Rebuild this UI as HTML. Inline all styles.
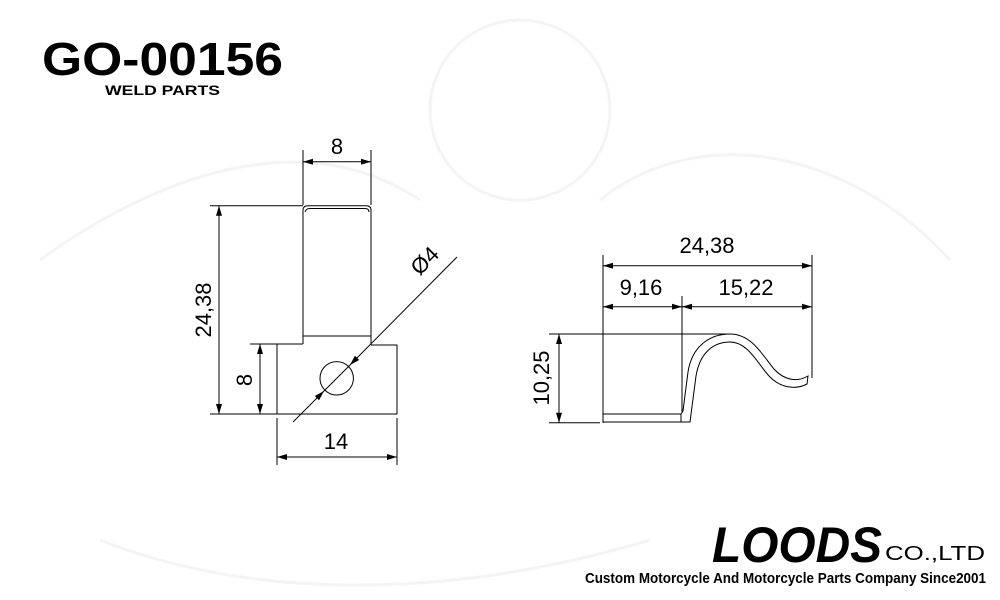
<!DOCTYPE html>
<html><head><meta charset="utf-8"><style>
html,body{margin:0;padding:0;background:#fff;}
svg{display:block;}
text{font-family:"Liberation Sans",sans-serif;}
</style></head><body>
<svg width="1000" height="600" viewBox="0 0 1000 600" xmlns="http://www.w3.org/2000/svg">
<defs>
<marker id="a" viewBox="0 0 10 6" refX="10" refY="3" markerWidth="15" markerHeight="6" markerUnits="userSpaceOnUse" orient="auto-start-reverse"><path d="M0,0 L10,3 L0,6 Z" fill="#000"/></marker>
</defs>
<!-- faint watermark -->
<g fill="none" stroke="#f4f4f4" stroke-width="3">
<circle cx="520" cy="110" r="90"/><path d="M40,260 C150,180 300,120 420,200"/><path d="M600,200 C700,120 850,150 950,260"/>
<path d="M100,540 C250,600 450,600 650,540"/>
</g>
<!-- title -->
<text x="42" y="75" font-size="46" font-weight="bold" textLength="241" lengthAdjust="spacingAndGlyphs">GO-00156</text>
<text x="105" y="95" font-size="14" font-weight="bold" textLength="115" lengthAdjust="spacingAndGlyphs">WELD PARTS</text>

<g stroke="#000" stroke-width="1" fill="none">
<!-- front view -->
<path d="M303,344 L303,210 Q303,205.7 308,205.7 L366,205.7 Q371,205.7 371,210 L371,345"/>
<path d="M305,212 Q306,208.5 310,208.5 L365,208.5 Q369,208.5 369,212"/>
<line x1="303" y1="336" x2="371" y2="336"/>
<path d="M303,344 L277,344 L277,414 L397,414 L397,345 L371,345"/>
<circle cx="336.7" cy="378.3" r="16.7"/>
<!-- ext lines -->
<line x1="303" y1="150" x2="303" y2="205"/>
<line x1="371" y1="150" x2="371" y2="205"/>
<line x1="210" y1="205.7" x2="303" y2="205.7"/>
<line x1="210" y1="414" x2="277" y2="414"/>
<line x1="250" y1="344" x2="277" y2="344"/>
<line x1="277" y1="418" x2="277" y2="465"/>
<line x1="397" y1="418" x2="397" y2="465"/>
<!-- dims -->
<line x1="303" y1="161.7" x2="371" y2="161.7" marker-start="url(#a)" marker-end="url(#a)"/>
<line x1="219" y1="205.7" x2="219" y2="414" marker-start="url(#a)" marker-end="url(#a)"/>
<line x1="260" y1="344" x2="260" y2="414" marker-start="url(#a)" marker-end="url(#a)"/>
<line x1="277" y1="457" x2="397" y2="457" marker-start="url(#a)" marker-end="url(#a)"/>
<line x1="457" y1="257" x2="350" y2="365" marker-end="url(#a)"/>
<line x1="293" y1="422" x2="324" y2="391" marker-end="url(#a)"/>
<line x1="324" y1="391" x2="350" y2="365"/>

<!-- side view -->
<path d="M603,414 L681,414 L683,411 L688,372 C692,346 710,334 730,334 C752,334 763,356 774,369 C785,381 798,382 808,376 L807,384 C796,390 780,388 769,376 C758,364 748,342 730,342 C714,342 700,352 696,376 L690,422 L603,422 Z"/>
<line x1="681" y1="414" x2="681" y2="422"/>
<line x1="603" y1="255" x2="603" y2="423"/>
<line x1="812" y1="255" x2="812" y2="378"/>
<line x1="682" y1="296" x2="682" y2="412"/>
<line x1="549" y1="334" x2="730" y2="334"/>
<line x1="549" y1="422.7" x2="600" y2="422.7"/>
<line x1="603" y1="265.7" x2="812" y2="265.7" marker-start="url(#a)" marker-end="url(#a)"/>
<line x1="603" y1="306.7" x2="682" y2="306.7" marker-start="url(#a)" marker-end="url(#a)"/>
<line x1="682" y1="306.7" x2="812" y2="306.7" marker-start="url(#a)" marker-end="url(#a)"/>
<line x1="559" y1="334" x2="559" y2="422.7" marker-start="url(#a)" marker-end="url(#a)"/>
</g>

<g font-size="22" fill="#000" text-anchor="middle">
<text x="337" y="154">8</text>
<text x="336" y="449">14</text>
<text transform="translate(211,310) rotate(-90)">24,38</text>
<text transform="translate(252,380) rotate(-90)">8</text>
<text transform="translate(430,266) rotate(-45)">Ø4</text>
<text x="707" y="253">24,38</text>
<text x="641" y="295">9,16</text>
<text x="746" y="295">15,22</text>
<text transform="translate(549,378) rotate(-90)">10,25</text>
</g>

<!-- logo -->
<text x="712" y="562" font-family="Liberation Serif,serif" font-size="50" font-style="italic" font-weight="bold" textLength="170" lengthAdjust="spacingAndGlyphs">LOODS</text>
<text x="885" y="560" font-family="Liberation Serif,serif" font-size="20" textLength="100" lengthAdjust="spacingAndGlyphs">CO.,LTD</text>
<text x="585" y="583" font-family="Liberation Sans Narrow,Liberation Sans,sans-serif" font-weight="bold" font-size="15" textLength="401" lengthAdjust="spacingAndGlyphs">Custom Motorcycle And Motorcycle Parts Company Since2001</text>
</svg>
</body></html>
